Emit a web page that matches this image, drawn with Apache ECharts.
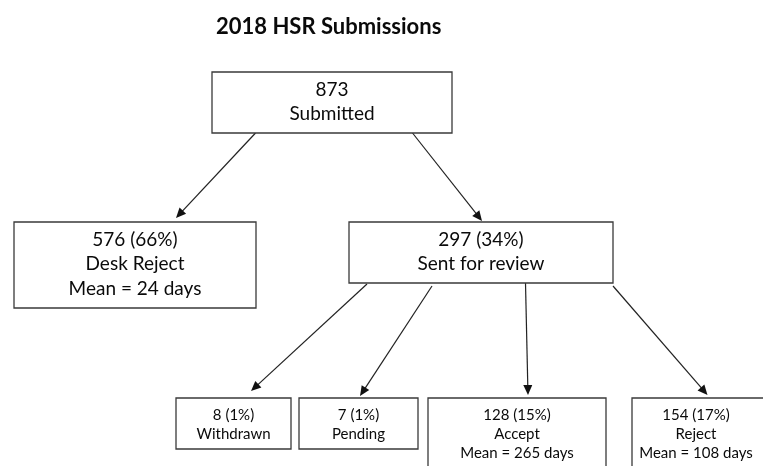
<!DOCTYPE html>
<html>
<head>
<meta charset="utf-8">
<script src="https://cdn.jsdelivr.net/npm/echarts@6/dist/echarts.min.js"></script>
<style>
  html, body { margin: 0; padding: 0; background: #fff; }
  #main { width: 763px; height: 466px; }
</style>
</head>
<body>
<div id="main"></div>
<script>
// data
var stages = ['Submitted', 'Desk Reject', 'Sent for review', 'Withdrawn', 'Pending', 'Accept', 'Reject'];
var counts = [873, 576, 297, 8, 7, 128, 154];
var percents = [null, 66, 34, 1, 1, 15, 17];
var meanDays = [null, 24, null, null, null, 265, 108];
var parentOf = [null, 0, 0, 2, 2, 2, 2];

// layout in page pixels (axes run 0..763 / 0..466)
var boxes = [
  [212, 72, 452, 133],
  [14, 222, 256, 308],
  [349, 222, 613, 283],
  [176, 398, 291, 449],
  [299, 398, 418, 449],
  [428, 398, 606, 480],
  [632, 398, 775, 480]
];
var labelX = [332, 135, 481, 233.5, 358.5, 517, 696];
var small = [false, false, false, true, true, true, true];
// arrow from parent box edge to child box
var arrows = [
  null,
  [255.5, 133, 176, 218],
  [412.5, 133, 482, 221],
  [367, 284, 251, 391],
  [432, 286, 360, 396],
  [525.5, 283, 528, 395],
  [613, 286, 707.5, 395]
];

function boxText(i) {
  var lines = [counts[i] + (percents[i] != null ? ' (' + percents[i] + '%)' : ''), stages[i]];
  if (meanDays[i] != null) lines.push('Mean = ' + meanDays[i] + ' days');
  return lines.join('\n');
}

var boxData = boxes.map(function (b, i) { return [b[0], b[1], b[2], b[3], i]; });
var arrowData = [];
arrows.forEach(function (a, i) { if (a && parentOf[i] != null) arrowData.push(a); });

function renderBox(params, api) {
  var i = api.value(4);
  var p0 = api.coord([api.value(0), api.value(1)]);
  var p1 = api.coord([api.value(2), api.value(3)]);
  var cx = api.coord([labelX[i], 0])[0];
  var fs = small[i] ? 15 : 19;
  var lh = small[i] ? 19 : 24.5;
  var off = small[i] ? 7.5 : 5.5;
  return {
    type: 'group',
    children: [{
      type: 'rect',
      shape: { x: p0[0], y: p0[1], width: p1[0] - p0[0], height: p1[1] - p0[1] },
      style: { fill: '#fff', stroke: '#3a3a3a', lineWidth: 1.3 }
    }, {
      type: 'text',
      style: {
        text: boxText(i), x: cx, y: p0[1] + off,
        align: 'center', verticalAlign: 'top',
        font: fs + 'px Lato', lineHeight: lh, fill: '#0a0a0a'
      }
    }]
  };
}

function renderArrow(params, api) {
  var s = api.coord([api.value(0), api.value(1)]);
  var e = api.coord([api.value(2), api.value(3)]);
  var dx = e[0] - s[0], dy = e[1] - s[1];
  var len = Math.sqrt(dx * dx + dy * dy);
  var ux = dx / len, uy = dy / len;
  var hl = 10, hw = 4.5;
  var bx = e[0] - ux * hl, by = e[1] - uy * hl;
  return {
    type: 'group',
    children: [{
      type: 'line',
      shape: { x1: s[0], y1: s[1], x2: bx + ux * 2, y2: by + uy * 2 },
      style: { stroke: '#222', lineWidth: 1.2 }
    }, {
      type: 'polygon',
      shape: { points: [[e[0], e[1]], [bx - uy * hw, by + ux * hw], [bx + uy * hw, by - ux * hw]] },
      style: { fill: '#111' }
    }]
  };
}

var chart = echarts.init(document.getElementById('main'));
chart.setOption({
  animation: false,
  backgroundColor: '#fff',
  title: {
    text: '2018 HSR Submissions',
    left: 216, top: 16, padding: 0,
    textStyle: { fontFamily: 'Lato', fontWeight: 'bold', fontSize: 22, color: '#0a0a0a' }
  },
  grid: { left: 0, right: 0, top: 0, bottom: 0 },
  xAxis: { type: 'value', min: 0, max: 763, show: false },
  yAxis: { type: 'value', min: 0, max: 466, inverse: true, show: false },
  series: [{
    type: 'custom',
    silent: true,
    clip: false,
    renderItem: renderArrow,
    encode: { x: [0, 2], y: [1, 3] },
    data: arrowData
  }, {
    type: 'custom',
    silent: true,
    clip: true,
    renderItem: renderBox,
    encode: { x: [0, 2], y: [1, 3] },
    data: boxData
  }]
});
</script>
</body>
</html>
